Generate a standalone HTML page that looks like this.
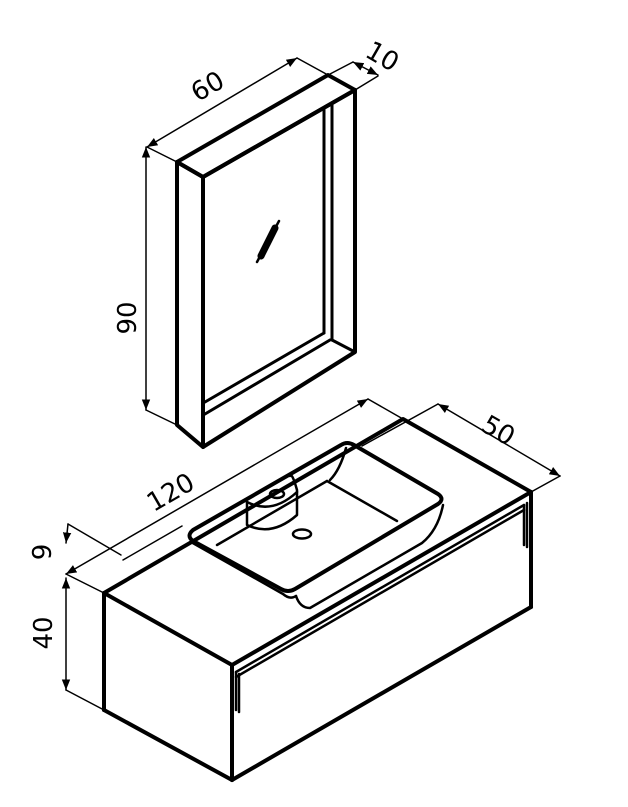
<!DOCTYPE html>
<html><head><meta charset="utf-8"><style>
html,body{margin:0;padding:0;background:#fff}
svg{display:block}
text{font-family:"DejaVu Sans","Liberation Sans",sans-serif;font-size:26px;fill:#000}
</style></head><body>
<svg width="628" height="807" viewBox="0 0 628 807" xmlns="http://www.w3.org/2000/svg">
<defs>
<marker id="a" viewBox="0 0 10 10" refX="10" refY="5" markerWidth="7" markerHeight="7" orient="auto-start-reverse"><path d="M0,1 L10,5 L0,9 z" fill="#000"/></marker>
</defs>
<g fill="none" stroke="#000" stroke-linejoin="round" stroke-linecap="round">
<!-- Mirror -->
<g stroke-width="4">
<polygon points="177,162 328,75 355,90 203,177"/>
<polygon points="177,162 203,177 203,447 177,425"/>
<polygon points="203,177 355,90 355,352 203,447"/>
</g>
<g stroke-width="3">
<line x1="332" y1="105" x2="332" y2="340"/>
<line x1="324" y1="110" x2="324" y2="333"/>
<line x1="324" y1="333" x2="205" y2="402"/>
<line x1="330" y1="340" x2="205" y2="414"/>
<line x1="332" y1="340" x2="355" y2="352"/>
<line x1="257" y1="262" x2="279" y2="221" stroke-width="2.5"/>
<line x1="261" y1="256" x2="275" y2="228" stroke-width="7"/>
</g>
<!-- mirror dims -->
<g stroke-width="1.5">
<line x1="147" y1="147" x2="177" y2="162"/>
<line x1="297" y1="58" x2="328" y2="75"/>
<line x1="147" y1="147" x2="297" y2="58" marker-start="url(#a)" marker-end="url(#a)"/>
<line x1="330" y1="74" x2="353" y2="62"/>
<line x1="355" y1="90" x2="378" y2="76"/>
<line x1="353" y1="62" x2="378" y2="75" marker-start="url(#a)" marker-end="url(#a)"/>
<line x1="146" y1="147" x2="146" y2="410" marker-start="url(#a)" marker-end="url(#a)"/>
<line x1="146" y1="410" x2="177" y2="425"/>
</g>
<!-- Cabinet -->
<g stroke-width="4">
<polygon points="104,593 403,419 531,492 232,665"/>
<line x1="104" y1="593" x2="104" y2="710"/>
<line x1="104" y1="710" x2="232" y2="780"/>
<line x1="232" y1="665" x2="232" y2="780"/>
<line x1="232" y1="780" x2="531" y2="607"/>
<line x1="531" y1="492" x2="531" y2="607"/>
</g>
<g stroke-width="2.5">
<line x1="236" y1="672" x2="524" y2="505"/>
<line x1="236" y1="677" x2="524" y2="510"/>
<line x1="236" y1="672" x2="236" y2="710"/>
<line x1="239" y1="674" x2="239" y2="712"/>
<line x1="524" y1="505" x2="524" y2="545"/>
<line x1="527" y1="503" x2="527" y2="547"/>
</g>
<!-- Basin -->
<g stroke-width="4">
<path d="M193,530 L341,445 Q347,441 354,445 L438,494 Q445,499 438,504 L295,589 Q288,593 281,589 L193,541 Q186,536 193,530 z"/>
</g>
<g stroke-width="2.5">
<path d="M191,542 L283,594 Q290,600 296,596"/>
<path d="M296,596 Q300,608 310,608 L422,543 Q438,530 443,505"/>
<line x1="217" y1="545" x2="327" y2="481"/>
<line x1="327" y1="481" x2="397" y2="521"/>
<path d="M346,448 Q340,470 330,480"/>
<path d="M247,502 L247,525 Q272,537 297,515 L297,490 Q292,472 290,476"/>
<path d="M247,502 Q272,515 297,492"/>
<ellipse cx="277" cy="494" rx="7" ry="4"/>
<ellipse cx="302" cy="534" rx="9" ry="4.5"/>
</g>
<!-- cabinet dims -->
<g stroke-width="1.5">
<line x1="66" y1="574" x2="368" y2="399" marker-start="url(#a)" marker-end="url(#a)"/>
<line x1="368" y1="399" x2="403" y2="419"/>
<line x1="66" y1="574" x2="104" y2="593"/>
<line x1="438" y1="404" x2="560" y2="476" marker-start="url(#a)" marker-end="url(#a)"/>
<line x1="362" y1="446" x2="438" y2="404"/>
<line x1="531" y1="492" x2="560" y2="476"/>
<line x1="68" y1="524" x2="121" y2="555"/>
<line x1="68" y1="524" x2="66" y2="543" marker-end="url(#a)"/>
<line x1="123" y1="560" x2="182" y2="526"/>
<line x1="66" y1="578" x2="66" y2="690" marker-start="url(#a)" marker-end="url(#a)"/>
<line x1="66" y1="690" x2="104" y2="710"/>
</g>
</g>
<text transform="translate(212,94) rotate(-30)" text-anchor="middle">60</text>
<text transform="translate(378,64) rotate(30)" text-anchor="middle">10</text>
<text transform="translate(136,318) rotate(-90)" text-anchor="middle">90</text>
<text transform="translate(175,500) rotate(-30)" text-anchor="middle">120</text>
<text transform="translate(494,438) rotate(30)" text-anchor="middle">50</text>
<text transform="translate(51,552) rotate(-90)" text-anchor="middle">9</text>
<text transform="translate(52,633) rotate(-90)" text-anchor="middle">40</text>
</svg>
</body></html>
